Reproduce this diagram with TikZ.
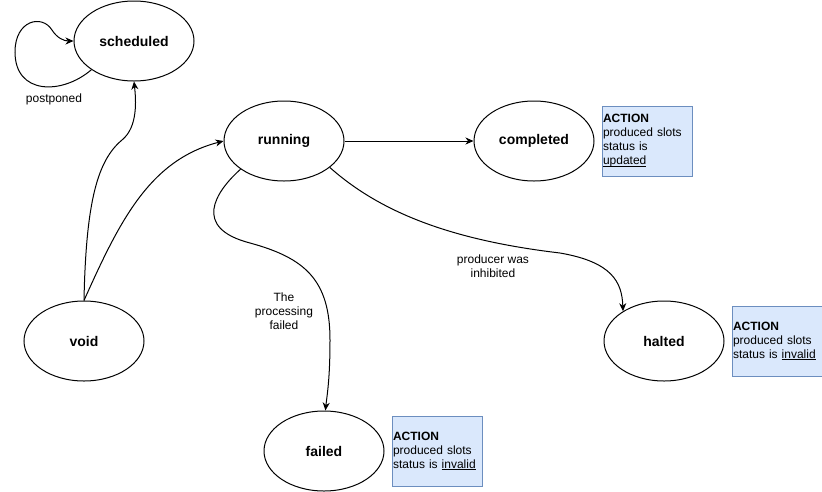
\documentclass[tikz,border=0pt]{standalone}
\usepackage{fontspec}
\setmainfont{Liberation Sans}
\usetikzlibrary{shapes.geometric,arrows.meta}
\definecolor{boxfill}{HTML}{DAE8FC}
\definecolor{boxline}{HTML}{6C8EBF}
\newcommand{\myul}[1]{\leavevmode\setbox0\hbox{#1}\rlap{\rule[-1.8pt]{\wd0}{0.8pt}}#1}
\tikzset{
  state/.style={draw, ellipse, line width=1pt, minimum width=120pt, minimum height=80pt, inner sep=0pt, font=\fontsize{14}{16}\selectfont\bfseries},
  actbox/.style={draw=boxline, fill=boxfill, line width=1pt, minimum width=90pt, minimum height=70pt, text width=88pt, inner xsep=1pt, inner ysep=0pt, align=left, font=\fontsize{12}{14}\selectfont},
  elabel/.style={font=\fontsize{12}{14}\selectfont, align=center, inner sep=0pt},
  conn/.style={line width=1pt, -{Stealth[length=8pt,width=7pt,inset=2.5pt]}},
}
\begin{document}
\begin{tikzpicture}[x=1pt,y=-1pt]
\useasboundingbox (0,0) rectangle (822,491);
\node[state] (sch) at (134,41) {scheduled};
\node[state] (run) at (284,141) {running};
\node[state] (comp) at (534,141) {completed};
\node[state] (void) at (84,341) {void};
\node[state] (halt) at (664,341) {halted};
\node[state] (fail) at (324,451) {failed};

\node[actbox] (bcomp) at (647,141) {\textbf{ACTION}\\produced slots\\status is\\\myul{updated}};
\node[actbox] (bhalt) at (777,341) {\textbf{ACTION}\\produced slots\\status is \myul{invalid}};
\node[actbox] (bfail) at (437,451) {\textbf{ACTION}\\produced slots\\status is \myul{invalid}};

% self loop
\draw[conn] (sch.214) .. controls (62,95) and (15,95) .. (15,52)
  .. controls (15,20) and (42,14) .. (52,30)
  .. controls (57,38) and (64,41) .. (sch.west);
\node[elabel] (lpost) at (54,99) {postponed};

% void -> scheduled
\draw[conn] (void.north) .. controls (86,200) and (98,160) .. (122,140)
  .. controls (138,127) and (136,100) .. (sch.south);
% void -> running
\draw[conn] (void.north) .. controls (120,220) and (150,160) .. (run.west);
% running -> completed
\draw[conn] (run.east) -- (comp.west);
% running -> failed
\draw[conn] (run.213) .. controls (215,192) and (192,228) .. (250,243)
  .. controls (305,258) and (330,280) .. (330,340)
  .. controls (330,380) and (327,395) .. (fail.88);
\node[elabel] (lfail) at (284,311) {The\\processing\\failed};
% running -> halted
\draw[conn] (run.330) .. controls (380,212) and (450,240) .. (560,253)
  .. controls (612,262) and (622,282) .. (halt.144);
\node[elabel] (lhalt) at (493,266) {producer was\\inhibited};
\end{tikzpicture}
\end{document}
